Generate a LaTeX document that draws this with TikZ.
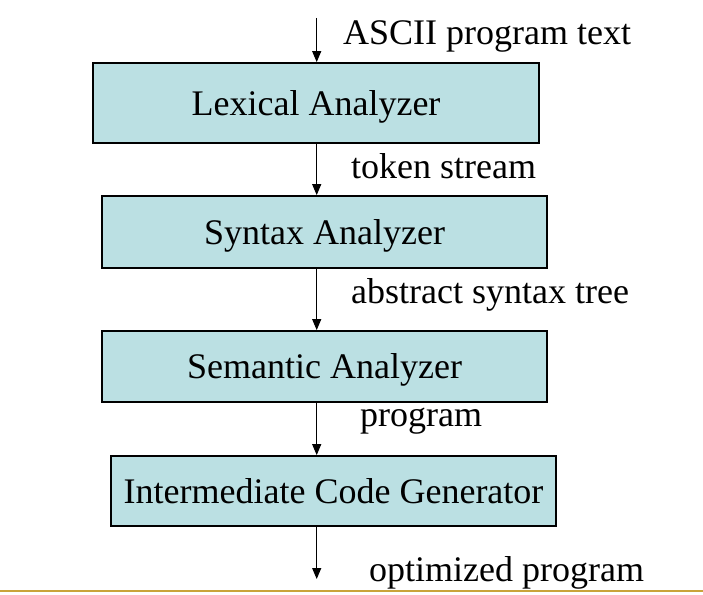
\documentclass[tikz,border=0pt]{standalone}
\usepackage{fontspec}
\setmainfont{Liberation Serif}
\usetikzlibrary{arrows.meta}
\definecolor{boxfill}{HTML}{BBE0E3}
\definecolor{goldline}{HTML}{C9A43A}
\begin{document}
\begin{tikzpicture}[x=1pt,y=-1pt,
  stage/.style={draw=black,line width=1.8pt,fill=boxfill,inner sep=0pt,text depth=0pt,font=\fontsize{36}{40}\selectfont},
  lbl/.style={anchor=base west,inner sep=0pt,font=\fontsize{36}{40}\selectfont},
  flow/.style={line width=1.1pt,-{Triangle[length=11pt,width=9pt]}}]
\useasboundingbox (0,0) rectangle (703,594);
\fill[white] (0,0) rectangle (703,594);
\draw[goldline,line width=2pt] (0,591) -- (703,591);
% boxes
\node[stage,minimum width=446pt,minimum height=80pt] (lex) at (316,103) {Lexical Analyzer};
\node[stage,minimum width=445pt,minimum height=72pt] (syn) at (324.5,232) {Syntax Analyzer};
\node[stage,minimum width=445pt,minimum height=71pt] (sem) at (324.5,366.5) {Semantic Analyzer};
\node[stage,minimum width=445pt,minimum height=70pt] (icg) at (333.5,491) {Intermediate Code Generator};
% free ends
\coordinate (in) at (316.7,18);
\coordinate (out) at (316.7,579);
% connectors
\draw[flow] (in) -- (in |- lex.north);
\draw[flow] (lex.south -| in) -- (syn.north -| in);
\draw[flow] (syn.south -| in) -- (sem.north -| in);
\draw[flow] (sem.south -| in) -- (icg.north -| in);
\draw[flow] (icg.south -| in) -- (out);
% labels
\node[lbl] (l1) at (343,45) {ASCII program text};
\node[lbl] (l2) at (351,178) {token stream};
\node[lbl] (l3) at (351,303) {abstract syntax tree};
\node[lbl] (l4) at (360,426) {program};
\node[lbl] (l5) at (369,581) {optimized program};
\end{tikzpicture}
\end{document}
